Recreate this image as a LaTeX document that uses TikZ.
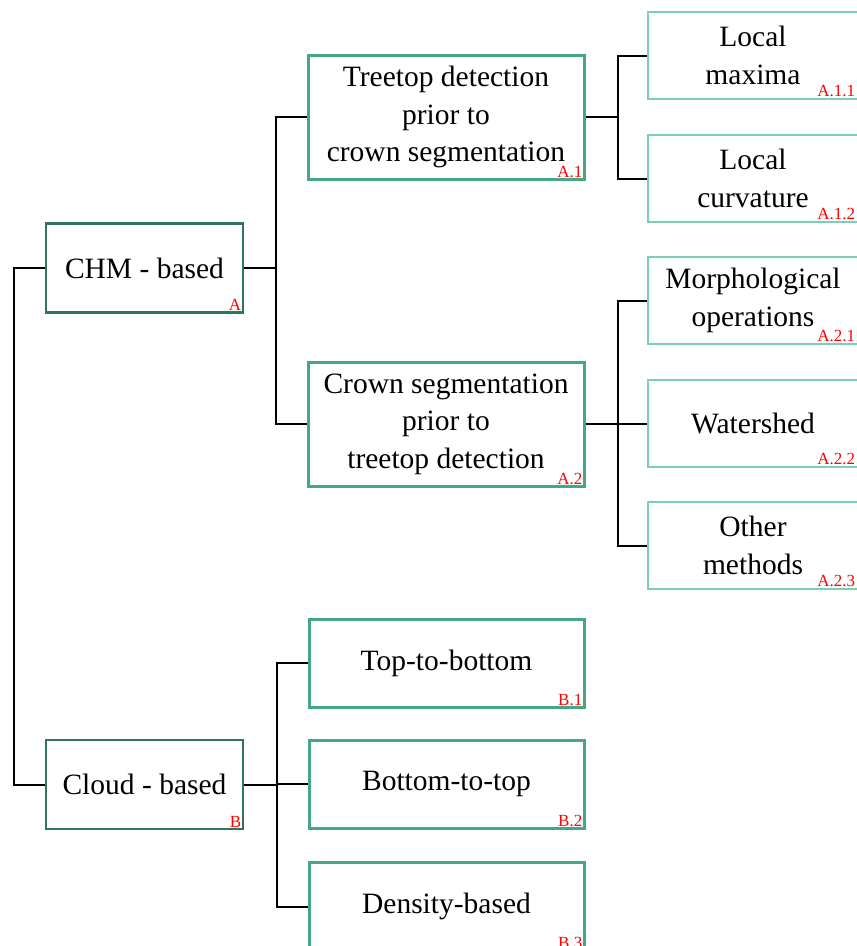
\documentclass[tikz,border=0pt]{standalone}
\usepackage{fontspec}
\setmainfont{Liberation Serif}
\usetikzlibrary{calc}
\definecolor{dkg}{RGB}{46,117,92}
\definecolor{mdg}{RGB}{68,168,136}
\definecolor{ltg}{RGB}{125,207,180}
\tikzset{
  boxbase/.style={rectangle, inner sep=0pt, align=center, font=\fontsize{29.5}{37.5}\selectfont},
  lvlone/.style={boxbase, draw=dkg, line width=2.6pt, minimum width=197pt, minimum height=89pt},
  lvltwo/.style={boxbase, draw=mdg, line width=3pt, minimum width=276pt, minimum height=124pt},
  lvltwob/.style={boxbase, draw=mdg, line width=3pt, minimum width=275pt, minimum height=88pt},
  lvlthree/.style={boxbase, draw=ltg, line width=2.6pt, minimum width=210pt, minimum height=87pt},
  tag/.style={text=red, inner sep=0pt, anchor=south east, font=\fontsize{17}{17}\selectfont},
  conn/.style={draw=black, line width=2pt}
}
\begin{document}
\begin{tikzpicture}[x=1pt,y=-1pt]
\clip (0,0) rectangle (857,946);
\fill[white] (0,0) rectangle (857,946);
% level one
\node[lvlone] (A) at (144.5,268) {CHM - based};
\node[lvlone] (B) at (144.5,784.5) {Cloud - based};
% level two
\node[lvltwo] (A1) at (446,117) {Treetop detection\\prior to\\crown segmentation};
\node[lvltwo] (A2) at (446,424) {Crown segmentation\\prior to\\treetop detection};
\node[lvltwob] (B1) at (446.5,663) {Top-to-bottom};
\node[lvltwob] (B2) at (446.5,784) {Bottom-to-top};
\node[lvltwob] (B3) at (446.5,906.5) {Density-based};
% level three
\node[lvlthree] (A11) at (753,55.5) {Local\\maxima};
\node[lvlthree] (A12) at (753,178.5) {Local\\curvature};
\node[lvlthree] (A21) at (753,300.5) {Morphological\\operations};
\node[lvlthree] (A22) at (753,423.5) {Watershed};
\node[lvlthree] (A23) at (753,545.5) {Other\\methods};
% tags
\node[tag] (tA) at ([xshift=-3pt,yshift=3pt]A.south east) {A};
\node[tag] (tB) at ([xshift=-3pt,yshift=3pt]B.south east) {B};
\node[tag] (tA1) at ([xshift=-3pt,yshift=3pt]A1.south east) {A.1};
\node[tag] (tA2) at ([xshift=-3pt,yshift=3pt]A2.south east) {A.2};
\node[tag] (tB1) at ([xshift=-3pt,yshift=3pt]B1.south east) {B.1};
\node[tag] (tB2) at ([xshift=-3pt,yshift=3pt]B2.south east) {B.2};
\node[tag] (tB3) at ([xshift=-3pt,yshift=3pt]B3.south east) {B.3};
\node[tag] (tA11) at ([xshift=-4pt,yshift=3pt]A11.south east) {A.1.1};
\node[tag] (tA12) at ([xshift=-4pt,yshift=3pt]A12.south east) {A.1.2};
\node[tag] (tA21) at ([xshift=-4pt,yshift=3pt]A21.south east) {A.2.1};
\node[tag] (tA22) at ([xshift=-4pt,yshift=3pt]A22.south east) {A.2.2};
\node[tag] (tA23) at ([xshift=-4pt,yshift=3pt]A23.south east) {A.2.3};
% connectors
\draw[conn] (A.west) -- ++(-31,0) |- (B.west);
\draw[conn] (A.east) -- ++(32,0) coordinate (ja);
\draw[conn] (ja) |- (A1.west);
\draw[conn] (ja) |- (A2.west);
\draw[conn] (A1.east) -- ++(32,0) coordinate (j1);
\draw[conn] (j1) |- (A11.west);
\draw[conn] (j1) |- (A12.west);
\draw[conn] (A2.east) -- ++(32,0) coordinate (j2);
\draw[conn] (j2) |- (A21.west);
\draw[conn] (j2) |- (A22.west);
\draw[conn] (j2) |- (A23.west);
\draw[conn] (B.east) -- ++(33,0) coordinate (jb);
\draw[conn] (jb) |- (B1.west);
\draw[conn] (jb) |- (B2.west);
\draw[conn] (jb) |- (B3.west);
\end{tikzpicture}
\end{document}
